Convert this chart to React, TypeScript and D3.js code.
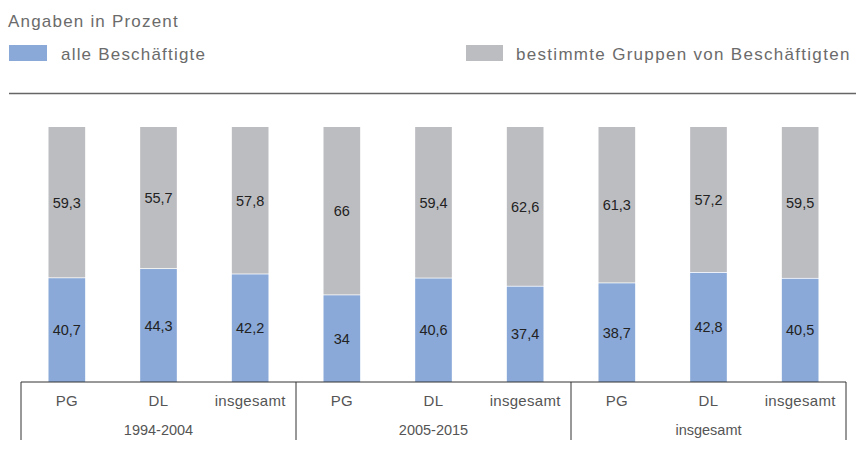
import React from "react";
import * as d3 from "d3";

const groups = ["1994-2004", "2005-2015", "insgesamt"];
const categories = ["PG", "DL", "insgesamt"];
const alleBeschaeftigte = [40.7, 44.3, 42.2, 34, 40.6, 37.4, 38.7, 42.8, 40.5];
const bestimmteGruppen = [59.3, 55.7, 57.8, 66, 59.4, 62.6, 61.3, 57.2, 59.5];
const legendLabels = ["alle Beschäftigte", "bestimmte Gruppen von Beschäftigten"];

const W = 856;
const H = 462;
const BLUE = "#8aa9d8";
const GRAY = "#bcbdc1";
const FONT = "'Liberation Sans', Arial, sans-serif";

export default function App() {
  const left = 21;
  const right = 846;
  const top = 127;
  const bottom = 382;
  const keys = alleBeschaeftigte.map((_, i) => `${Math.floor(i / 3)}-${i % 3}`);
  const x = d3.scaleBand<string>().domain(keys).range([left, right]).paddingInner(0.6).paddingOuter(0.3);
  const gx = d3.scaleBand<string>().domain(groups).range([left, right]);
  const y = d3.scaleLinear().domain([0, 100]).range([bottom, top]);

  return (
    <svg width={W} height={H} style={{ position: "absolute", left: 0, top: 0 }} fontFamily={FONT}>
      <text x={8} y={27} fontSize={17} letterSpacing={1.2} fill="#6b6b6b">Angaben in Prozent</text>
      <rect x={9} y={45} width={38} height={16} fill={BLUE} />
      <text x={61} y={60} fontSize={17} letterSpacing={1.2} fill="#6b6b6b">{legendLabels[0]}</text>
      <rect x={466} y={45} width={37} height={16} fill={GRAY} />
      <text x={516} y={60} fontSize={17} letterSpacing={1.3} fill="#6b6b6b">{legendLabels[1]}</text>
      <line x1={9} x2={856} y1={93.5} y2={93.5} stroke="#666" strokeWidth={1.5} />

      {keys.map((k, i) => {
        const bx = x(k)!;
        const bw = x.bandwidth();
        const a = alleBeschaeftigte[i];
        const b = bestimmteGruppen[i];
        const yA = y(a);
        const yB = y(a + b);
        const cx = bx + bw / 2;
        return (
          <g key={k}>
            <rect x={bx} y={yA} width={bw} height={bottom - yA} fill={BLUE} />
            <rect x={bx} y={yB} width={bw} height={yA - yB - 0.8} fill={GRAY} />
            <text x={cx} y={(yA + bottom) / 2} fontSize={14.5} fill="#222" textAnchor="middle" dominantBaseline="central">
              {String(a).replace(".", ",")}
            </text>
            <text x={cx} y={(yA + yB) / 2} fontSize={14.5} fill="#222" textAnchor="middle" dominantBaseline="central">
              {String(b).replace(".", ",")}
            </text>
            <text x={cx} y={406} fontSize={15} letterSpacing={0.3} fill="#555" textAnchor="middle">
              {categories[i % 3]}
            </text>
          </g>
        );
      })}

      <line x1={left} x2={right} y1={bottom} y2={bottom} stroke="#333" strokeWidth={1} />
      {[...groups.map((g) => gx(g)!), right].map((v, i) => (
        <line key={i} x1={v} x2={v} y1={bottom} y2={440} stroke="#333" strokeWidth={1} />
      ))}
      {groups.map((g) => (
        <text key={g} x={gx(g)! + gx.bandwidth() / 2} y={435} fontSize={14.5} fill="#555" textAnchor="middle">
          {g}
        </text>
      ))}
    </svg>
  );
}
